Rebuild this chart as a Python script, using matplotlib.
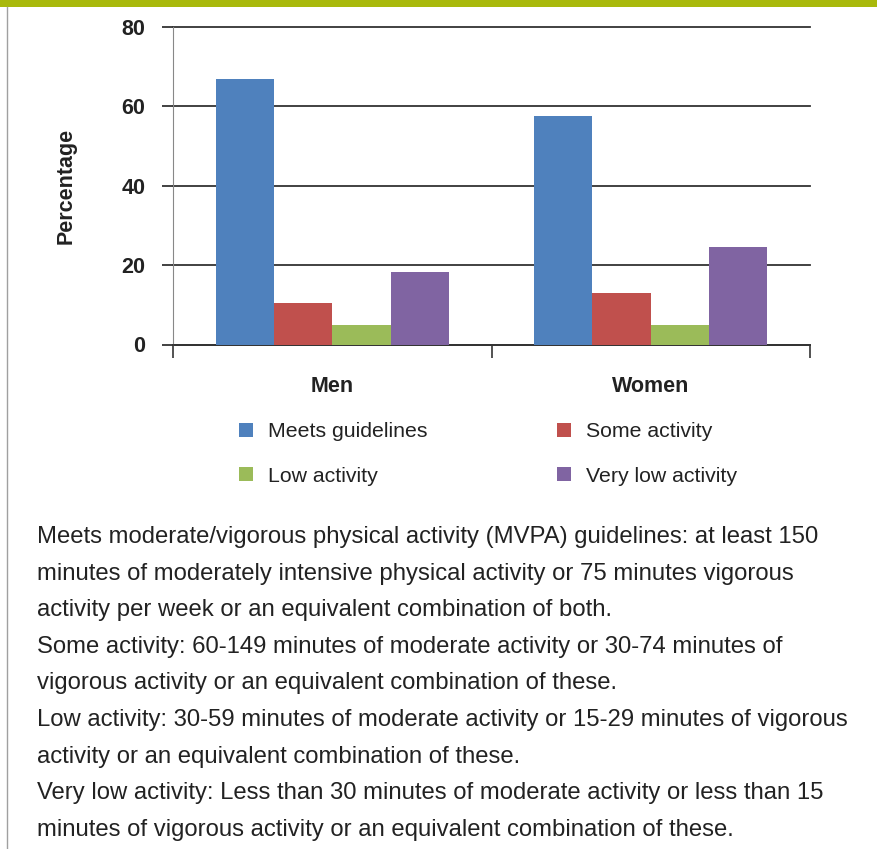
import matplotlib
matplotlib.use('Agg')
import numpy as np
import matplotlib.pyplot as plt
from matplotlib.patches import Rectangle
from matplotlib.lines import Line2D

plt.rcParams['font.family'] = ['Liberation Sans', 'DejaVu Sans']

# data
groups = ['Men', 'Women']
series = ['Meets guidelines', 'Some activity', 'Low activity', 'Very low activity']
meets = [67.0, 57.5]
some = [10.4, 13.0]
low = [5.0, 5.0]
very_low = [18.3, 24.5]
colors = ['#4F81BD', '#C0504D', '#9BBB59', '#8064A2']
yticks = [0, 20, 40, 60, 80]

notes = [
    "Meets moderate/vigorous physical activity (MVPA) guidelines: at least 150",
    "minutes of moderately intensive physical activity or 75 minutes vigorous",
    "activity per week or an equivalent combination of both.",
    "Some activity: 60-149 minutes of moderate activity or 30-74 minutes of",
    "vigorous activity or an equivalent combination of these.",
    "Low activity: 30-59 minutes of moderate activity or 15-29 minutes of vigorous",
    "activity or an equivalent combination of these.",
    "Very low activity: Less than 30 minutes of moderate activity or less than 15",
    "minutes of vigorous activity or an equivalent combination of these.",
]

W, H = 877, 849
fig = plt.figure(figsize=(W / 100, H / 100), dpi=100)

# frame: olive strip on top, thin grey line on the left
fig.add_artist(Rectangle((0, 1 - 7 / H), 1, 7 / H, transform=fig.transFigure,
                         color='#A9B90B', lw=0))
fig.add_artist(Line2D([7 / W, 7 / W], [0, 1 - 7 / H], transform=fig.transFigure,
                      color='#A0A0A0', lw=1))

ax = fig.add_axes([173 / W, 1 - 344.5 / H, (810 - 173) / W, (344.5 - 27) / H])

values = [meets, some, low, very_low]
x = np.arange(len(groups))
width = 0.183
for i, (vals, name) in enumerate(zip(values, series)):
    ax.bar(x + (i - 1.5) * width, vals, width, color=colors[i], label=name, zorder=3)

ax.set_xlim(-0.5, 1.5)
ax.set_ylim(0, 80)
ax.set_yticks(yticks)
ax.set_yticklabels([str(t) for t in yticks], fontsize=15.5, fontweight='bold', color='#222222')
ax.yaxis.grid(True, color='#333333', lw=1.3, zorder=1)
for gl in ax.get_ygridlines():
    gl.set_clip_on(False)
ax.tick_params(axis='y', length=8, width=1.3, color='#333333', pad=12)

ax.set_xticks(x)
ax.set_xticklabels(groups, fontsize=15.5, fontweight='bold', color='#222222')
ax.set_xticks([-0.5, 0.5, 1.5], minor=True)
ax.tick_params(axis='x', which='major', length=0, pad=23)
ax.tick_params(axis='x', which='minor', length=9, width=1.3, color='#444444')

ax.set_ylabel('Percentage', fontsize=15.5, fontweight='bold', color='#222222', labelpad=32)

for side in ['top', 'right']:
    ax.spines[side].set_visible(False)
ax.spines['left'].set_color('#888888')
ax.spines['bottom'].set_color('#333333')
ax.spines['bottom'].set_linewidth(1.3)

# legend, two rows of two
leg_x = [239, 557]
leg_y = [432, 476]
sq = 14
for i, name in enumerate(series):
    col, row = i % 2, i // 2
    cx, cy = leg_x[col], leg_y[row]
    fig.add_artist(Rectangle((cx / W, 1 - (cy + sq / 2 - 2) / H), sq / W, sq / H,
                             transform=fig.transFigure, color=colors[i], lw=0))
    fig.text((cx + 29) / W, 1 - cy / H, name, fontsize=15.3, color='#222222', va='center')

# footnote
for i, line in enumerate(notes):
    fig.text(37 / W, 1 - (537 + i * 36.6) / H, line, fontsize=17.2, color='#222222', va='center')

fig.savefig('out.png', dpi=100)
